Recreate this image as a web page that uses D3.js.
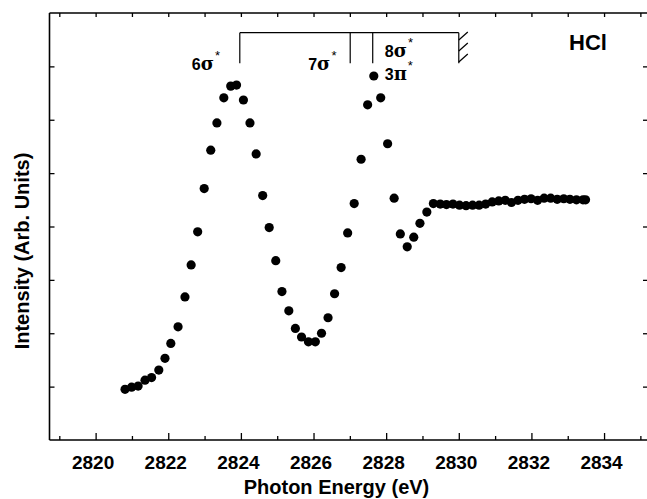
<!DOCTYPE html>
<html><head><meta charset="utf-8">
<script src="https://cdn.jsdelivr.net/npm/d3@7"></script>
<style>body{margin:0;background:#fff}svg{display:block}</style>
</head><body><svg id="c" width="647" height="499"></svg>
<script>
// ---- data ----
const energy = [2820.81,2820.99,2821.17,2821.36,2821.54,2821.74,2821.91,2822.07,2822.27,2822.46,
  2822.63,2822.81,2822.99,2823.17,2823.34,2823.53,2823.72,2823.88,2824.07,2824.25,
  2824.42,2824.60,2824.78,2824.96,2825.13,2825.32,2825.50,2825.67,2825.86,2826.05,
  2826.22,2826.40,2826.58,2826.76,2826.94,2827.12,2827.31,2827.49,2827.66,2827.85,
  2828.04,2828.22,2828.39,2828.58,2828.76,2828.93,2829.12,2829.30,2829.49,2829.66,
  2829.84,2830.02,2830.20,2830.38,2830.56,2830.74,2830.92,2831.10,2831.28,2831.45,
  2831.63,2831.81,2831.99,2832.17,2832.35,2832.53,2832.71,2832.89,2833.06,2833.24,2833.42,2833.49];
const intensity = [0.95,0.99,1.01,1.12,1.17,1.31,1.53,1.81,2.12,2.68,
  3.28,3.90,4.71,5.43,5.94,6.41,6.63,6.65,6.37,5.94,
  5.36,4.58,3.98,3.36,2.78,2.42,2.09,1.93,1.84,1.84,
  2.00,2.29,2.74,3.23,3.88,4.43,5.26,6.28,6.82,6.41,
  5.55,4.53,3.86,3.62,3.80,4.06,4.27,4.43,4.42,4.41,
  4.42,4.40,4.39,4.40,4.40,4.42,4.46,4.48,4.49,4.45,
  4.49,4.51,4.52,4.49,4.53,4.53,4.51,4.52,4.51,4.50,4.50,4.50];
const majorTicks = [2820,2822,2824,2826,2828,2830,2832,2834];
const minorTicks = [2819,2821,2823,2825,2827,2829,2831,2833,2835];
const topTicks = d3.range(2819, 2836, 1);
const yTicks = [1,2,3,4,5,6,7];
const transitionE = [2823.97, 2827.01, 2827.63];
const thresholdE = 2830.0;
const transitionLabels = [["6","σ"],["7","σ"],["8","σ"],["3","π"]];
const xTitle = "Photon Energy (eV)";
const yTitle = "Intensity (Arb. Units)";
const molecule = "HCl";

// ---- drawing ----
const svg = d3.select("#c");
const x = d3.scaleLinear().domain([2818.73, 2835.21]).range([49.5, 648]);
const y = d3.scaleLinear().domain([0, 8]).range([440, 13]);
const FONT = "'Liberation Sans', Arial, Helvetica, sans-serif";

// frame
const g = svg.append("g").attr("stroke","#000").attr("fill","none");
g.append("line").attr("x1",x.range()[0]).attr("x2",x.range()[1]).attr("y1",440).attr("y2",440).attr("stroke-width",1.6);
g.append("line").attr("x1",x.range()[0]).attr("x2",x.range()[1]).attr("y1",13).attr("y2",13).attr("stroke-width",1.6);
g.append("line").attr("x1",49.5).attr("x2",49.5).attr("y1",13).attr("y2",440).attr("stroke-width",1.6);

// bottom axis (major with labels, minor)
const bMaj = svg.append("g").attr("transform","translate(0,440)")
  .call(d3.axisBottom(x).tickValues(majorTicks).tickSizeInner(-7).tickSizeOuter(0).tickPadding(16).tickFormat(d3.format("d")));
const bMin = svg.append("g").attr("transform","translate(0,440)")
  .call(d3.axisBottom(x).tickValues(minorTicks).tickSizeInner(-4).tickSizeOuter(0).tickFormat(""));
[bMaj,bMin].forEach(a=>{a.select(".domain").remove(); a.selectAll("line").attr("stroke-width",1.3);});
bMaj.selectAll("text").attr("font-family",FONT).attr("font-weight","bold").attr("font-size",19).attr("fill","#000").attr("dx",-3);

// top axis
const tAx = svg.append("g").attr("transform","translate(0,13)")
  .call(d3.axisTop(x).tickValues(topTicks).tickSizeInner(-4).tickSizeOuter(0).tickFormat(""));
tAx.select(".domain").remove(); tAx.selectAll("line").attr("stroke-width",1.3);

// left & right axes
const lAx = svg.append("g").attr("transform","translate(49.5,0)")
  .call(d3.axisLeft(y).tickValues(yTicks).tickSizeInner(-5).tickSizeOuter(0).tickFormat(""));
lAx.select(".domain").remove(); lAx.selectAll("line").attr("stroke-width",1.3);
const rAx = svg.append("g").attr("transform","translate(647,0)")
  .call(d3.axisRight(y).tickValues(yTicks).tickSizeInner(-4).tickSizeOuter(0).tickFormat(""));
rAx.select(".domain").remove(); rAx.selectAll("line").attr("stroke-width",1.3);

// data points
svg.append("g").selectAll("circle").data(energy.map((e,i)=>[e,intensity[i]])).join("circle")
  .attr("cx",d=>x(d[0])).attr("cy",d=>y(d[1])).attr("r",4.6).attr("fill","#000");

// bracket annotation
const yBar = 32.7, yDrop = 63.3;
const ann = svg.append("g").attr("stroke","#000").attr("stroke-width",1.2).attr("fill","none");
ann.append("line").attr("x1",x(transitionE[0])).attr("x2",x(thresholdE)).attr("y1",yBar).attr("y2",yBar);
transitionE.concat([thresholdE]).forEach(e=>{
  ann.append("line").attr("x1",x(e)).attr("x2",x(e)).attr("y1",yBar).attr("y2",yDrop);
});
[40,51,62].forEach(yy=>{
  ann.append("line").attr("x1",x(thresholdE)).attr("y1",yy).attr("x2",x(thresholdE)+9).attr("y2",yy-8);
});

// transition labels
function lab(xp, yp, parts){
  const t = svg.append("text").attr("x",xp).attr("y",yp).attr("font-family",FONT).attr("fill","#000");
  t.append("tspan").attr("font-weight","bold").attr("font-size",16).text(parts[0]);
  t.append("tspan").attr("font-family","'DejaVu Serif','Liberation Serif',serif").attr("font-size",18).attr("font-weight","bold").text(parts[1]);
  t.append("tspan").attr("font-size",13).attr("dx",1).attr("dy",-10).attr("fill","#000").text("*");
}
lab(x(transitionE[0])-48, 70, transitionLabels[0]);
lab(x(transitionE[1])-42, 70, transitionLabels[1]);
lab(x(transitionE[2])+12, 56.5, transitionLabels[2]);
lab(x(transitionE[2])+12, 80, transitionLabels[3]);

// molecule label
svg.append("text").attr("x",569).attr("y",50).attr("font-family",FONT).attr("font-weight","bold")
  .attr("font-size",22).attr("fill","#000").text(molecule);

// axis titles
svg.append("text").attr("x",336.5).attr("y",494).attr("text-anchor","middle").attr("font-family",FONT)
  .attr("font-weight","bold").attr("font-size",20).attr("fill","#000").text(xTitle);
svg.append("text").attr("transform","translate(29,251) rotate(-90)").attr("text-anchor","middle").attr("font-family",FONT)
  .attr("font-weight","bold").attr("font-size",20).attr("fill","#000").text(yTitle);
</script></body></html>
